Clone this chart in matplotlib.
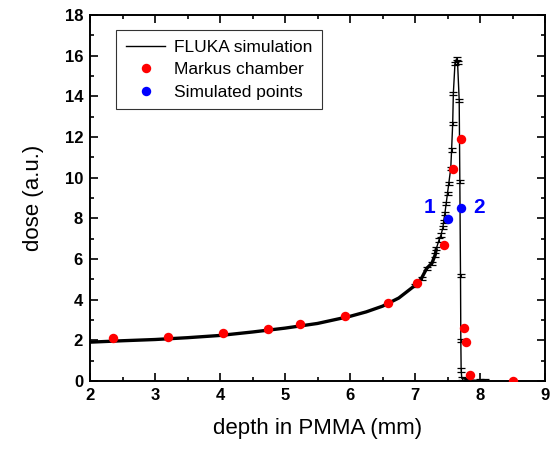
import matplotlib
matplotlib.use("Agg")
import matplotlib.pyplot as plt
import numpy as np
from matplotlib.ticker import MultipleLocator

plt.rcParams['font.family'] = ['Liberation Sans', 'DejaVu Sans']

# FLUKA simulation curve
fluka_x = [2.0, 2.5, 3.0, 3.5, 4.0, 4.5, 5.0, 5.5, 6.0, 6.25, 6.5, 6.75, 7.0,
           7.1, 7.18, 7.26, 7.31, 7.33, 7.37, 7.40, 7.43, 7.44, 7.46, 7.48,
           7.50, 7.52, 7.55, 7.563, 7.58, 7.59, 7.615, 7.64, 7.655, 7.68,
           7.69, 7.70, 7.705, 7.71, 7.72, 7.80, 8.0, 8.08]
fluka_y = [1.91, 1.98, 2.04, 2.13, 2.24, 2.41, 2.60, 2.83, 3.18, 3.40, 3.68, 4.08, 4.70,
           5.05, 5.54, 5.79, 6.20, 6.53, 6.94, 7.18, 7.56, 7.84, 8.25, 8.74,
           9.23, 9.72, 10.46, 11.36, 12.67, 14.15, 15.62, 15.85, 15.65, 13.8,
           9.8, 5.2, 2.0, 0.54, 0.13, 0.06, 0.03, 0.0]
fluka_err = 0.08

# Markus chamber measurements
markus_x = [2.36, 3.20, 4.04, 4.74, 5.23, 5.92, 6.58, 7.03, 7.44, 7.59, 7.70,
            7.75, 7.78, 7.84, 8.50]
markus_y = [2.13, 2.15, 2.34, 2.57, 2.79, 3.21, 3.85, 4.84, 6.69, 10.41, 11.92,
            2.59, 1.93, 0.30, 0.0]

# Simulated points
sim_x = [7.50, 7.70]
sim_y = [7.95, 8.49]
sim_labels = ["1", "2"]

fig = plt.figure(figsize=(5.58, 4.5), dpi=100)
ax = fig.add_axes([90/558, 1-381/450, 455/558, 366/450])

fx = np.array(fluka_x)
fy = np.array(fluka_y)
plat = fx <= 7.33
ax.plot(fx[plat], fy[plat], color='black', lw=2.4, solid_capstyle='butt', zorder=2)
ax.plot(fx[fx >= 7.0], fy[fx >= 7.0], color='black', lw=1.0, zorder=2)
eb = fx >= 7.0
ax.errorbar(fx[eb], fy[eb], yerr=fluka_err, fmt='none', ecolor='black',
            elinewidth=0.8, capsize=3.2, capthick=0.9, zorder=2)
ax.plot([], [], color='black', lw=1.0, label='FLUKA simulation')

ax.plot(markus_x, markus_y, 'o', color='#ff0000', ms=6.8, mec='none',
        label='Markus chamber', zorder=3)
ax.plot(sim_x, sim_y, 'o', color='#0000ff', ms=6.8, mec='none',
        label='Simulated points', zorder=4)

ax.text(7.50 - 0.27, 8.55, sim_labels[0], color='#0000ff', fontsize=15,
        fontweight='bold', ha='center', va='center')
ax.text(7.70 + 0.29, 8.55, sim_labels[1], color='#0000ff', fontsize=15,
        fontweight='bold', ha='center', va='center')

ax.set_xlim(2, 9)
ax.set_ylim(0, 18)
ax.xaxis.set_major_locator(MultipleLocator(1))
ax.xaxis.set_minor_locator(MultipleLocator(0.5))
ax.yaxis.set_major_locator(MultipleLocator(2))
ax.yaxis.set_minor_locator(MultipleLocator(1))
ax.tick_params(which='both', direction='in', top=True, right=True, width=1.2)
ax.tick_params(which='major', length=5.5, labelsize=12, pad=5)
ax.tick_params(which='minor', length=3)
for lab in ax.get_xticklabels() + ax.get_yticklabels():
    lab.set_fontweight('bold')
for s in ax.spines.values():
    s.set_linewidth(1.4)

ax.set_xlabel('depth in PMMA (mm)', fontsize=16, labelpad=11)
ax.set_ylabel('dose (a.u.)', fontsize=16, labelpad=15)

leg = ax.legend(loc='upper left', bbox_to_anchor=((116-90)/455, (381-30)/366),
                borderaxespad=0, fontsize=12.5, frameon=True, fancybox=False,
                edgecolor='black', handlelength=2.3, handletextpad=0.5,
                labelspacing=0.42, borderpad=0.55, numpoints=1)
leg.get_frame().set_linewidth(0.8)

fig.savefig('out.png', dpi=100)
